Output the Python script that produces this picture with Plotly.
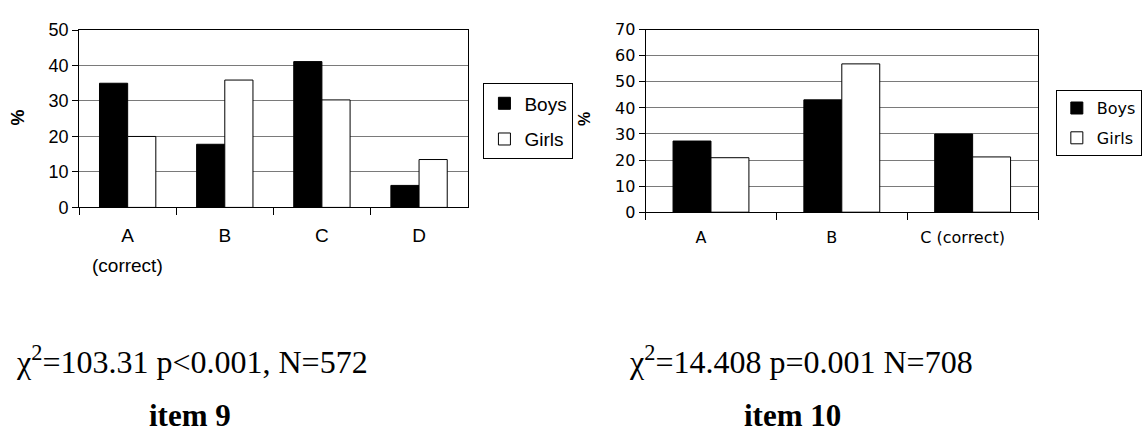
import plotly.graph_objects as go

# ---- data ----
cats9 = ["A", "B", "C", "D"]
boys9 = [35.0, 17.8, 41.1, 6.2]
girls9 = [20.0, 35.9, 30.3, 13.5]
note9 = "(correct)"
stat9 = "χ<sup>2</sup>=103.31 p&lt;0.001, N=572"
title9 = "item 9"

cats10 = ["A", "B", "C (correct)"]
boys10 = [27.3, 43.1, 30.0]
girls10 = [20.9, 56.9, 21.2]
stat10 = "χ<sup>2</sup>=14.408 p=0.001 N=708"
title10 = "item 10"

series_names = ["Boys", "Girls"]

W, H = 1142, 432
SANS = "Liberation Sans, Arial, sans-serif"
WIDE = "DejaVu Sans, Verdana, sans-serif"
SERIF = "Liberation Serif, Times New Roman, serif"


def px(x):
    return x / W


def py(y):
    return 1 - y / H


fig = go.Figure()

bar_line = dict(color="black", width=1)
fig.add_trace(go.Bar(x=cats9, y=boys9, name=series_names[0], marker=dict(color="black", line=bar_line),
                     xaxis="x", yaxis="y", legend="legend", legendgroup="b9"))
fig.add_trace(go.Bar(x=cats9, y=girls9, name=series_names[1], marker=dict(color="white", line=bar_line),
                     xaxis="x", yaxis="y", legend="legend", legendgroup="g9"))
fig.add_trace(go.Bar(x=cats10, y=boys10, name=series_names[0], marker=dict(color="black", line=bar_line),
                     xaxis="x2", yaxis="y2", legend="legend2", legendgroup="b10"))
fig.add_trace(go.Bar(x=cats10, y=girls10, name=series_names[1], marker=dict(color="white", line=bar_line),
                     xaxis="x2", yaxis="y2", legend="legend2", legendgroup="g10"))

common_x = dict(type="category", showline=True, linecolor="black", linewidth=1, mirror=True,
                ticks="outside", tickson="boundaries", ticklen=7, tickcolor="black",
                showgrid=False, zeroline=False)
common_y = dict(showline=True, linecolor="black", linewidth=1, mirror=True, ticks="outside",
                ticklen=6, tickcolor="black", showgrid=True, gridcolor="#7a7a7a", gridwidth=1,
                zeroline=False, dtick=10)

fig.update_layout(
    width=W, height=H, margin=dict(l=0, r=0, t=0, b=0),
    paper_bgcolor="white", plot_bgcolor="white",
    barmode="group", bargap=0.42, bargroupgap=0,
    font=dict(family=SANS, color="black"),
    xaxis=dict(domain=[px(80), px(473)], anchor="y", tickfont=dict(size=19, family=SANS),
               ticklabelstandoff=11, **common_x),
    yaxis=dict(domain=[py(207), py(21)], anchor="x", range=[0, 50], tickfont=dict(size=18, family=SANS),
               **common_y),
    xaxis2=dict(domain=[px(653), px(1050)], anchor="y2", tickfont=dict(size=16, family=WIDE),
                ticklabelstandoff=11, ticklabelshift=-10, **common_x),
    yaxis2=dict(domain=[py(212), py(20.7)], anchor="x2", range=[0, 70], tickfont=dict(size=16, family=WIDE),
                **common_y),
    legend=dict(x=px(489), y=py(77), xanchor="left", yanchor="top", bordercolor="black", borderwidth=1,
                bgcolor="white", font=dict(size=19, family=SANS), traceorder="grouped", tracegroupgap=8,
                itemwidth=30),
    legend2=dict(x=px(1068), y=py(84), xanchor="left", yanchor="top", bordercolor="black", borderwidth=1,
                 bgcolor="white", font=dict(size=16, family=WIDE), traceorder="grouped", tracegroupgap=6,
                 itemwidth=30),
)

ann = []
# y-axis titles
ann.append(dict(text="<b>%</b>", x=px(18), y=py(113), xref="paper", yref="paper", showarrow=False,
                xanchor="center", yanchor="middle", textangle=-90, font=dict(size=18, family=SANS)))
ann.append(dict(text="<b>%</b>", x=px(591), y=py(114), xref="paper", yref="paper", showarrow=False,
                xanchor="center", yanchor="middle", textangle=-90, font=dict(size=16, family=SANS)))
# second line under "A" in item 9
ann.append(dict(text=note9, x=cats9[0], xref="x", y=py(268), yref="paper", showarrow=False,
                xanchor="center", yanchor="middle", font=dict(size=19, family=SANS)))
# statistics and item captions
ann.append(dict(text=stat9, x=px(14), y=py(367), xref="paper", yref="paper", xanchor="left",
                yanchor="middle", showarrow=False, font=dict(size=32, family=SERIF)))
ann.append(dict(text=stat10, x=px(634), y=py(367), xref="paper", yref="paper", xanchor="left",
                yanchor="middle", showarrow=False, font=dict(size=32, family=SERIF)))
ann.append(dict(text="<b>" + title9 + "</b>", x=px(192), y=py(425), xref="paper", yref="paper",
                xanchor="center", yanchor="middle", showarrow=False, font=dict(size=31, family=SERIF)))
ann.append(dict(text="<b>" + title10 + "</b>", x=px(802), y=py(425), xref="paper", yref="paper",
                xanchor="center", yanchor="middle", showarrow=False, font=dict(size=31, family=SERIF)))
fig.update_layout(annotations=ann)

fig.write_html("out.html")
